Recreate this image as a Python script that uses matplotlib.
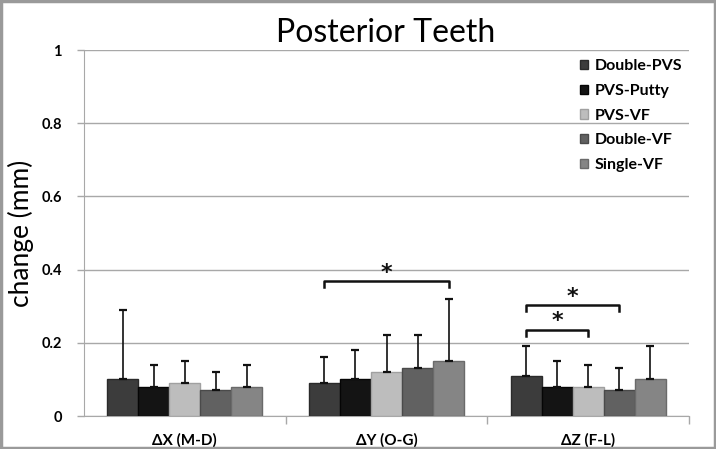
import matplotlib
matplotlib.use("Agg")
import matplotlib.pyplot as plt
import numpy as np
from matplotlib.patches import Rectangle

categories = ["ΔX (M-D)", "ΔY (O-G)", "ΔZ (F-L)"]
series = ["Double-PVS", "PVS-Putty", "PVS-VF", "Double-VF", "Single-VF"]
means = {
    "Double-PVS": [0.10, 0.09, 0.11],
    "PVS-Putty": [0.08, 0.10, 0.08],
    "PVS-VF": [0.09, 0.12, 0.08],
    "Double-VF": [0.07, 0.13, 0.07],
    "Single-VF": [0.08, 0.15, 0.10],
}
tops = {
    "Double-PVS": [0.29, 0.16, 0.19],
    "PVS-Putty": [0.14, 0.18, 0.15],
    "PVS-VF": [0.15, 0.22, 0.14],
    "Double-VF": [0.12, 0.22, 0.13],
    "Single-VF": [0.14, 0.32, 0.19],
}
colors = ["#3c3c3c", "#141414", "#bdbdbd", "#616161", "#858585"]
edges = ["#2a2a2a", "#050505", "#a0a0a0", "#4a4a4a", "#6a6a6a"]
# significance brackets: (category, series i, series j, height)
brackets = [(1, 0, 4, 0.368), (2, 0, 3, 0.302), (2, 0, 2, 0.235)]

fig = plt.figure(figsize=(7.16, 4.49), dpi=100)
ax = fig.add_axes([84/716, 33/449, (689-84)/716, (416-50)/449])

n = len(series)
x = np.arange(len(categories))
w = 0.154
for i, s in enumerate(series):
    pos = x + (i - (n-1)/2) * w
    err = np.array(tops[s]) - np.array(means[s])
    ax.bar(pos, means[s], width=w, color=colors[i], edgecolor=edges[i],
           linewidth=1.0, label=s, zorder=3)
    ax.errorbar(pos, means[s], yerr=[np.zeros(len(err)), err], fmt="none",
                ecolor="#111111", elinewidth=1.2, capsize=3, capthick=1.6, zorder=4)

for c, i, j, h in brackets:
    xi = c + (i - (n-1)/2) * w
    xj = c + (j - (n-1)/2) * w
    ax.plot([xi, xi, xj, xj], [h - 0.016, h, h, h - 0.016], color="#111111",
            lw=1.8, zorder=5, solid_joinstyle="round")
    ax.text((xi + xj) / 2, h + 0.024, "*", ha="center", va="center",
            fontsize=16, fontweight="bold", fontfamily="DejaVu Sans", color="#111111")

ax.set_xlim(-0.5, 2.5)
ax.set_ylim(0, 1)
ax.set_yticks(np.arange(0, 1.01, 0.2))
ax.set_yticklabels(["0", "0.2", "0.4", "0.6", "0.8", "1"])
ax.yaxis.grid(True, color="#a8a8a8", lw=1.0, zorder=0)
ax.set_axisbelow(True)
for sp in ["top", "right"]:
    ax.spines[sp].set_visible(False)
ax.spines["left"].set_color("#a8a8a8")
ax.spines["bottom"].set_color("#a8a8a8")
ax.tick_params(axis="y", length=5, color="#a8a8a8", width=1.0, pad=11,
               labelsize=10.5)
for lb in ax.get_yticklabels():
    lb.set_fontweight("bold")
    lb.set_fontfamily("Lato")
ax.set_xticks(x)
ax.set_xticklabels(categories, fontweight="bold", fontfamily="Lato", fontsize=11)
ax.tick_params(axis="x", length=0, pad=12)
ax.set_xticks([0.5, 1.5, 2.5], minor=True)
ax.tick_params(axis="x", which="minor", length=6, color="#a8a8a8", width=1.0)

ax.set_ylabel("change (mm)", fontsize=19, fontfamily="Lato", labelpad=5)
fig.text(386/716, 1 - 33/449, "Posterior Teeth", ha="center", va="center",
         fontsize=23, fontfamily="Lato", color="black")

leg = ax.legend(loc="upper right", bbox_to_anchor=(1.013, 1.014), frameon=False,
                prop={"family": "Lato", "weight": "bold", "size": 11.5},
                handlelength=0.5, handleheight=0.5, handletextpad=0.45,
                labelspacing=0.67)

fig.patches.append(Rectangle((0.002, 0.003), 0.996, 0.994, transform=fig.transFigure,
                             fill=False, edgecolor="#9a9a9a", lw=2.5))

fig.savefig("out.png", dpi=100)
